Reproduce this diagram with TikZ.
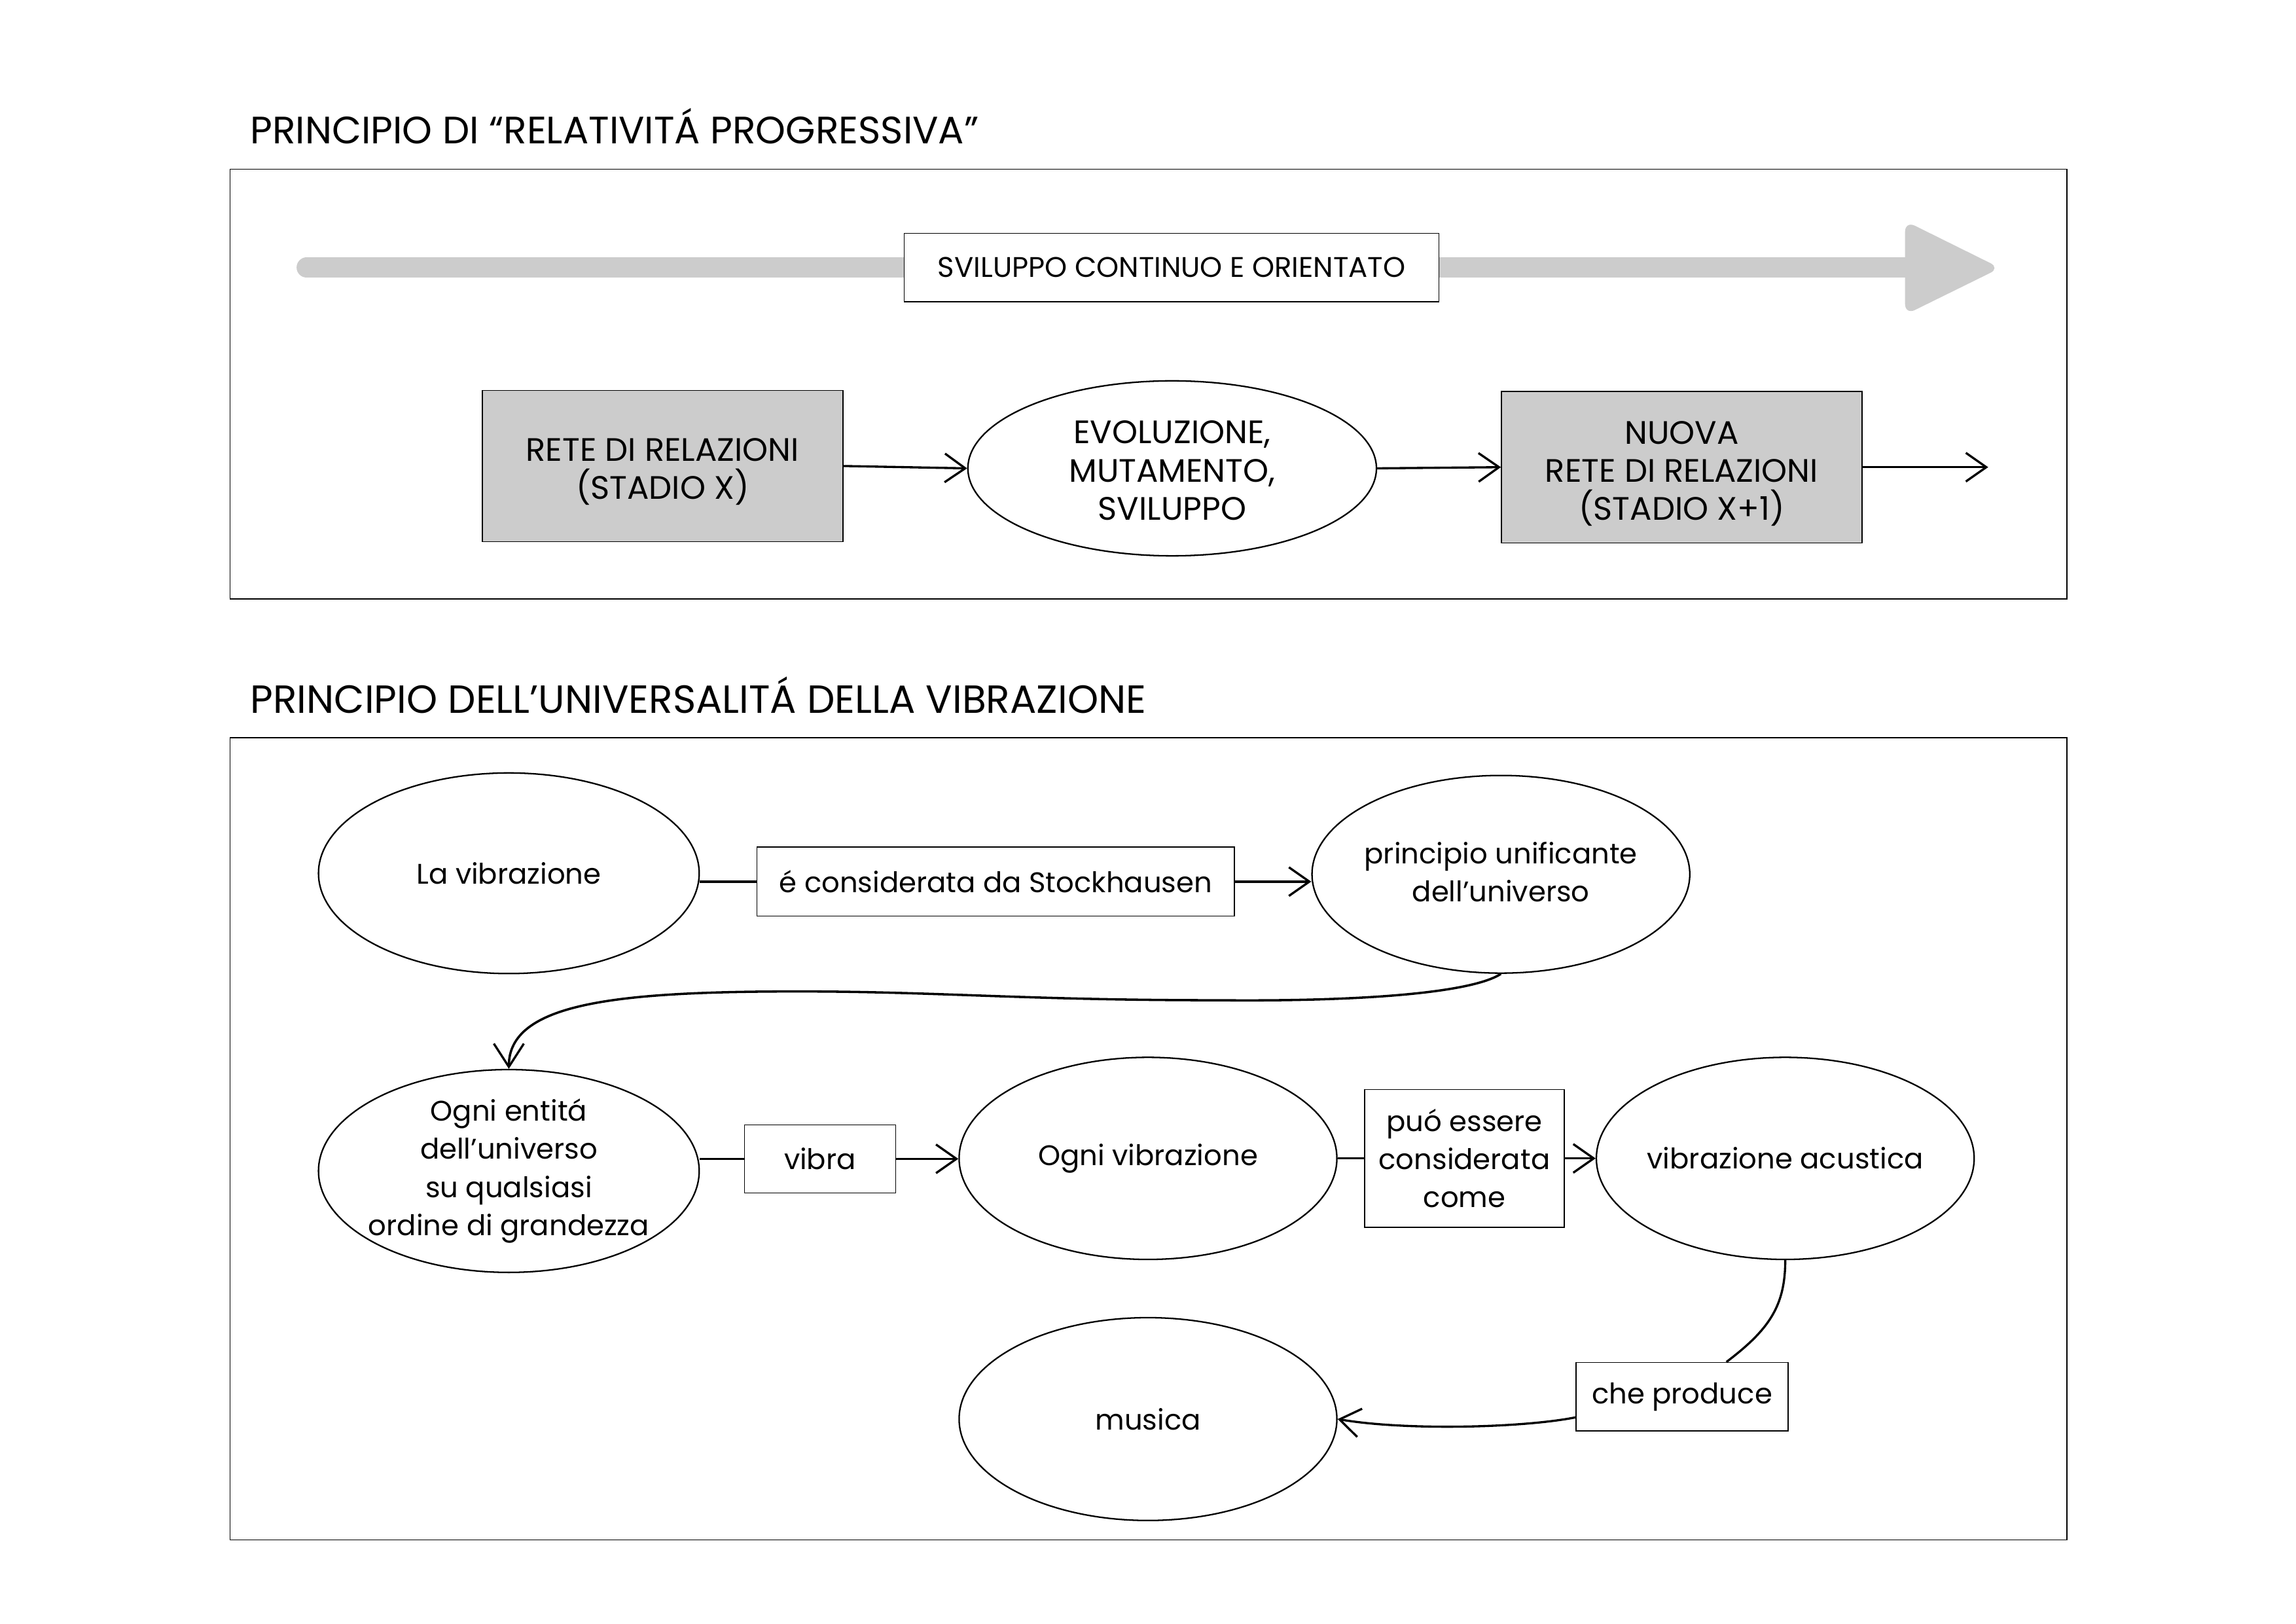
\documentclass[tikz,border=0pt]{standalone}
\usepackage{fontspec}
\setmainfont{Poppins}
\usetikzlibrary{shapes.geometric,arrows.meta}
\definecolor{boxgrey}{HTML}{CCCCCC}
\def\UU{0.53692pt}
\newcommand\bodyfont{\fontsize{10.4}{14}\selectfont}
\newcommand\bigbodyfont{\fontsize{11.9}{14}\selectfont}
\newcommand\titlefont{\fontsize{14}{16}\selectfont}
\tikzset{
  frame/.style={draw=black, line width=0.35pt},
  gbox/.style={rectangle, draw=black, line width=0.35pt, fill=boxgrey, inner sep=0pt},
  lbox/.style={rectangle, draw=black, line width=0.35pt, fill=white, align=center, inner sep=0pt, font=\bodyfont},
  ell/.style={ellipse, draw=black, line width=0.55pt, fill=white, inner sep=0pt},
  txt/.style={align=center, inner sep=0pt, font=\bodyfont},
  bigtxt/.style={align=center, inner sep=0pt, font=\bigbodyfont},
  ttl/.style={anchor=base west, inner sep=0pt, font=\titlefont},
  link/.style={line width=0.8pt},
  conn/.style={line width=0.8pt, -{Straight Barb[length=7.5pt,width=10.5pt,line width=0.8pt]}},
}
\begin{document}
\begin{tikzpicture}[x=\UU, y=-\UU]
\useasboundingbox (0,0) rectangle (1568,1108.7);

% ---------- top section ----------
\node[ttl] (t1) at (170.7,98) {PRINCIPIO DI “RELATIVITÁ PROGRESSIVA”};
\draw[frame] (157,115.6) rectangle (1411.6,409);

\coordinate (gs) at (209.4,182.7);
\coordinate (ge) at (1305,182.7);
\draw[boxgrey, line width=7.36pt, line cap=round] (gs) -- (ge);
\fill[boxgrey, rounded corners=4pt] (1301,150.8) -- (1366,183) -- (1301,215) -- cycle;
\node[lbox, minimum width=365.1*\UU, minimum height=46.6*\UU] (sv) at (800.15,182.7) {SVILUPPO CONTINUO E ORIENTATO};

\node[gbox, minimum width=246.3*\UU, minimum height=103.4*\UU] (r1) at (452.5,318.2) {};
\node[bigtxt] (r1t) at ([yshift=-4*\UU]r1.center) {RETE DI RELAZIONI\\(STADIO X)};
\node[ell, minimum width=279*\UU, minimum height=119.5*\UU] (ev) at (800.5,319.8) {};
\node[bigtxt] (evt) at ([yshift=-1.5*\UU]ev.center) {EVOLUZIONE,\\MUTAMENTO,\\SVILUPPO};
\node[gbox, minimum width=246.3*\UU, minimum height=103.5*\UU] (r2) at (1148.5,319) {};
\node[bigtxt] (r2t) at ([yshift=-4.5*\UU]r2.center) {NUOVA\\RETE DI RELAZIONI\\(STADIO X+1)};
\coordinate (fe) at (1357.8,319);

\draw[conn] (r1.east) -- (ev.west);
\draw[conn] (ev.east) -- (r2.west);
\draw[conn] (r2.east) -- (fe);

% ---------- bottom section ----------
\node[ttl, font=\fontsize{14.4}{16}\selectfont] (t2) at (170.7,487) {PRINCIPIO DELL’UNIVERSALITÁ DELLA VIBRAZIONE};
\draw[frame] (157,503.8) rectangle (1411.6,1051.6);

\node[ell, minimum width=260*\UU, minimum height=137*\UU] (la) at (347.5,596.3) {};
\node[txt] (lat) at (la.center) {La vibrazione};
\node[lbox, minimum width=326*\UU, minimum height=47.2*\UU] (st) at (680,602) {é considerata da Stockhausen};
\node[ell, minimum width=258*\UU, minimum height=135*\UU] (pu) at (1025,597) {};
\node[txt] (put) at ([yshift=1.5*\UU]pu.center) {principio unificante\\dell’universo};

\node[ell, minimum width=260*\UU, minimum height=138.5*\UU] (oe) at (347.5,799.6) {};
\node[txt] (oet) at (oe.center) {Ogni entitá\\dell’universo\\su qualsiasi\\ordine di grandezza};
\node[lbox, minimum width=103.3*\UU, minimum height=46.5*\UU] (vb) at (560,791.3) {vibra};
\node[ell, minimum width=258*\UU, minimum height=138*\UU] (ov) at (784,791) {};
\node[txt] (ovt) at (ov.center) {Ogni vibrazione};
\node[lbox, minimum width=136.2*\UU, minimum height=94*\UU] (pc) at (1000.1,791) {puó essere\\considerata\\come};
\node[ell, minimum width=258*\UU, minimum height=138*\UU] (va) at (1219.2,791) {};
\node[txt] (vat) at (va.center) {vibrazione acustica};

\node[lbox, minimum width=144.7*\UU, minimum height=46.7*\UU] (cp) at (1148.7,953.7) {che produce};
\node[ell, minimum width=258*\UU, minimum height=138.5*\UU] (mu) at (784,969) {};
\node[txt] (mut) at (mu.center) {musica};

\draw[link] (st.west -| la.east) -- (st.west);
\draw[conn] (st.east) -- (st.east -| pu.west);
\draw[line width=0.85pt, -{Straight Barb[length=8.5pt,width=11pt,line width=0.8pt]}]
  (pu.south) .. controls (1005,678) and (930,684) .. (831,683)
  .. controls (700,683) and (640,677) .. (545,677)
  .. controls (420,677) and (347.5,685) .. (oe.north);
\draw[link] (vb.west -| oe.east) -- (vb.west);
\draw[conn] (vb.east) -- (vb.east -| ov.west);
\draw[link] (ov.east) -- (pc.west);
\draw[conn] (pc.east) -- (va.west);
\draw[link] (va.south) .. controls (1219.2,892) and (1208,908) .. (cp.38);
\draw[conn] (cp.191) .. controls (1040,975) and (960,977) .. (mu.east);
\end{tikzpicture}
\end{document}
